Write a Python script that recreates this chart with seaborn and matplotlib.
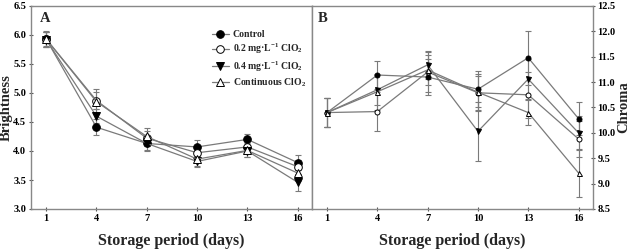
import matplotlib
matplotlib.use('Agg')
import matplotlib.pyplot as plt
import seaborn as sns
import pandas as pd

days = [1, 4, 7, 10, 13, 16]
groups = ['Control', '0.2 mg·L$^{-1}$ ClO$_2$', '0.4 mg·L$^{-1}$ ClO$_2$', 'Continuous ClO$_2$']

# Brightness (panel A)
bright_control = [5.93, 4.41, 4.13, 4.07, 4.20, 3.80]
bright_02 = [5.93, 4.87, 4.22, 3.97, 4.07, 3.73]
bright_04 = [5.92, 4.60, 4.13, 3.82, 4.00, 3.46]
bright_cont = [5.93, 4.85, 4.25, 3.86, 4.01, 3.62]
bright_err_control = [0.13, 0.14, 0.12, 0.12, 0.10, 0.13]
bright_err_02 = [0.12, 0.15, 0.13, 0.12, 0.10, 0.12]
bright_err_04 = [0.13, 0.12, 0.13, 0.10, 0.11, 0.15]
bright_err_cont = [0.14, 0.22, 0.14, 0.12, 0.12, 0.13]

# Chroma (panel B)
chroma_control = [10.40, 11.14, 11.10, 10.86, 11.48, 10.28]
chroma_02 = [10.40, 10.42, 11.20, 10.79, 10.75, 9.88]
chroma_04 = [10.40, 10.85, 11.34, 10.03, 11.06, 10.00]
chroma_cont = [10.40, 10.81, 11.24, 10.80, 10.40, 9.21]
chroma_err_control = [0.29, 0.28, 0.36, 0.36, 0.53, 0.32]
chroma_err_02 = [0.29, 0.38, 0.40, 0.34, 0.45, 0.35]
chroma_err_04 = [0.29, 0.30, 0.28, 0.58, 0.40, 0.34]
chroma_err_cont = [0.29, 0.35, 0.30, 0.36, 0.25, 0.48]

markers = ['o', 'o', 'v', '^']
faces = ['black', 'white', 'black', 'white']

sns.set_style('ticks')
plt.rcParams['font.family'] = ['Liberation Serif', 'DejaVu Serif']
plt.rcParams['font.weight'] = 'bold'
plt.rcParams['mathtext.fontset'] = 'custom'
plt.rcParams['mathtext.rm'] = 'Liberation Serif:bold'
plt.rcParams['mathtext.it'] = 'Liberation Serif:bold'
plt.rcParams['mathtext.bf'] = 'Liberation Serif:bold'


def tidy(vals):
    rows = []
    for g, v in zip(groups, vals):
        for d, y in zip(days, v):
            rows.append({'day': d, 'value': y, 'group': g})
    return pd.DataFrame(rows)


dfA = tidy([bright_control, bright_02, bright_04, bright_cont])
dfB = tidy([chroma_control, chroma_02, chroma_04, chroma_cont])
errA = [bright_err_control, bright_err_02, bright_err_04, bright_err_cont]
errB = [chroma_err_control, chroma_err_02, chroma_err_04, chroma_err_cont]

fig = plt.figure(figsize=(6.34, 2.5), dpi=100)
axA = fig.add_axes([0.049, 0.164, 0.443, 0.812])
axB = fig.add_axes([0.492, 0.164, 0.443, 0.812])

gray = '#7a7a7a'


def draw(ax, df, errs, ms):
    for i, g in enumerate(groups):
        sub = df[df['group'] == g]
        ax.errorbar(sub['day'], sub['value'], yerr=errs[i], fmt='none',
                    ecolor=gray, elinewidth=0.8, capsize=2.2, capthick=0.8, zorder=1)
        sns.lineplot(data=sub, x='day', y='value', ax=ax, color=gray, lw=0.9,
                     marker=markers[i], markersize=ms, markerfacecolor=faces[i],
                     markeredgecolor='black', markeredgewidth=0.7, label=g, zorder=3)


draw(axA, dfA, errA, 5.5)
draw(axB, dfB, errB, 3.6)

for ax in (axA, axB):
    ax.set_xlim(0.1, 16.85)
    ax.set_xticks(days)
    ax.tick_params(direction='inout', length=3, width=0.8, colors='#555555',
                   labelcolor='black', labelsize=7.5, pad=2)
    for s in ax.spines.values():
        s.set_color('#888888')
        s.set_linewidth(1.0)
    ax.set_xlabel('Storage period (days)', fontsize=11.5, fontweight='bold', labelpad=7)

axA.set_ylim(3.0, 6.5)
axA.set_yticks([3.0, 3.5, 4.0, 4.5, 5.0, 5.5, 6.0, 6.5])
axA.set_yticklabels(['3.0', '3.5', '4.0', '4.5', '5.0', '5.5', '6.0', '6.5'])
axA.set_ylabel('Brightness', fontsize=10.5, fontweight='bold', labelpad=0)

axB.set_ylim(8.5, 12.5)
axB.set_yticks([8.5, 9.0, 9.5, 10.0, 10.5, 11.0, 11.5, 12.0, 12.5])
axB.set_yticklabels(['8.5', '9.0', '9.5', '10.0', '10.5', '11.0', '11.5', '12.0', '12.5'])
axB.yaxis.tick_right()
axB.yaxis.set_label_position('right')
axB.set_ylabel('Chroma', fontsize=10.5, fontweight='bold', labelpad=1)

axA.text(0.03, 0.92, 'A', transform=axA.transAxes, fontsize=10.5, fontweight='bold')
axB.text(0.02, 0.92, 'B', transform=axB.transAxes, fontsize=10.5, fontweight='bold')

axA.legend(loc='upper right', bbox_to_anchor=(1.0, 0.91), frameon=False,
           fontsize=7, handlelength=1.8, labelspacing=0.3, handletextpad=0.4,
           borderaxespad=0.2)
if axB.get_legend():
    axB.get_legend().remove()

fig.savefig('out.png', dpi=100)
